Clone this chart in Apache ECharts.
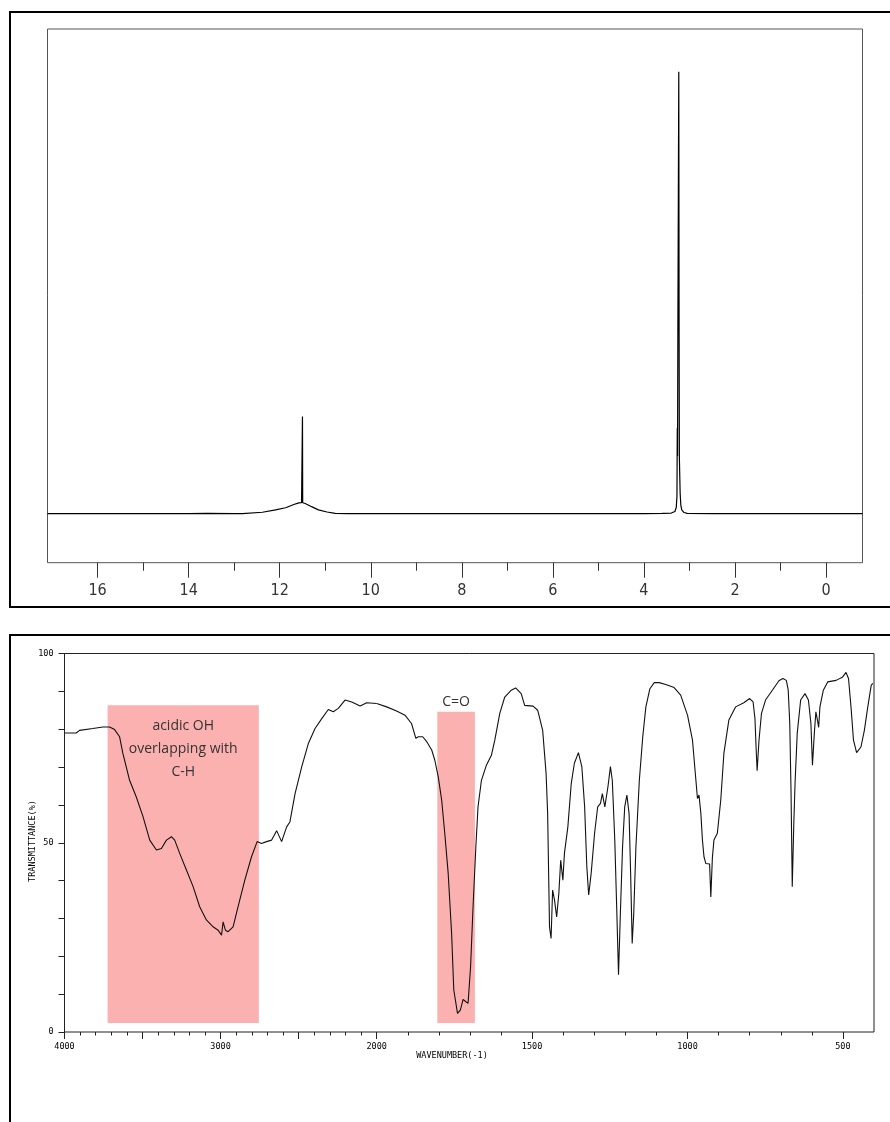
<!DOCTYPE html>
<html>
<head>
<meta charset="utf-8">
<title>NMR / IR</title>
<script src="https://cdn.jsdelivr.net/npm/echarts@6/dist/echarts.min.js"></script>
<style>
html, body { margin: 0; padding: 0; background: #fff; }
#main { width: 890px; height: 1122px; }
</style>
</head>
<body>
<div id="main"></div>
<script>
// 1H NMR: shift (ppm) and relative height
var nmrShift = [17.10, 14.00, 13.60, 13.00, 12.82, 12.38, 12.09, 11.87, 11.69, 11.58, 11.52, 11.505, 11.50, 11.495,
    11.44, 11.30, 11.15, 10.96, 10.78, 10.50, 8.00, 4.00, 3.60, 3.40, 3.32, 3.29, 3.275, 3.268, 3.262, 3.255,
    3.250, 3.235, 3.228, 3.222, 3.215, 3.205, 3.19, 3.17, 3.12, 3.05, 2.50, -0.80];
var nmrHeight = [9.2, 9.2, 9.25, 9.2, 9.2, 9.45, 9.9, 10.3, 10.9, 11.2, 11.24, 11.24, 27.4, 11.24,
    11.1, 10.5, 9.9, 9.5, 9.25, 9.2, 9.2, 9.2, 9.25, 9.3, 9.6, 10.4, 12.5, 25.2, 20.0, 43.0,
    43.0, 92.0, 43.0, 19.6, 19.6, 13.0, 10.8, 9.9, 9.4, 9.25, 9.2, 9.2];
var nmrLabels = [0, 2, 4, 6, 8, 10, 12, 14, 16];
var nmrMinor = [1, 3, 5, 7, 9, 11, 13, 15];

// IR: wavenumber (cm-1) and transmittance (%)
var irWave = [4000, 3925, 3904, 3818, 3754, 3711, 3679, 3647, 3626, 3583, 3540, 3497, 3454, 3411, 3379, 3347,
    3315, 3294, 3262, 3219, 3176, 3134, 3091, 3048, 3016, 2994, 2984, 2969, 2952, 2920, 2888, 2845, 2802, 2766,
    2738, 2706, 2673, 2641, 2609, 2577, 2556, 2523, 2480, 2438, 2395, 2352, 2310, 2278, 2246, 2203, 2160, 2106,
    2064, 2000, 1968, 1936, 1909, 1888, 1874, 1866, 1852, 1839, 1823, 1813, 1802, 1791, 1781, 1770, 1759, 1752,
    1740, 1731, 1722, 1713, 1706, 1698, 1690, 1681, 1674, 1663, 1647, 1631, 1620, 1604, 1588, 1567, 1553, 1535,
    1524, 1497, 1482, 1477, 1466, 1455, 1450, 1444, 1439, 1434, 1428, 1421, 1414, 1408, 1401, 1396, 1385, 1374,
    1364, 1351, 1340, 1331, 1324, 1318, 1310, 1299, 1289, 1280, 1274, 1270, 1266, 1261, 1256, 1248, 1242, 1234,
    1227, 1222, 1216, 1209, 1202, 1195, 1188, 1183, 1178, 1173, 1166, 1155, 1144, 1134, 1121, 1107, 1091, 1070,
    1043, 1022, 1000, 984, 973, 968, 963, 957, 952, 947, 941, 937, 929, 925, 920, 915, 904, 893, 883, 867, 845,
    819, 800, 789, 783, 779, 776, 770, 762, 749, 727, 706, 693, 682, 676, 671, 667, 663, 658, 654, 647, 636, 622,
    611, 603, 598, 592, 587, 582, 578, 574, 563, 549, 522, 502, 490, 482, 474, 466, 456, 442, 431, 420, 409, 404];
var irTrans = [79.0, 79.0, 79.7, 80.2, 80.6, 80.6, 79.9, 78.0, 73.6, 66.5, 62.1, 56.9, 50.7, 48.1, 48.5, 50.7,
    51.6, 50.7, 47.2, 42.8, 38.4, 33.1, 29.6, 27.8, 26.9, 25.6, 29.1, 26.9, 26.5, 27.8, 33.1, 40.1, 46.3, 50.3,
    49.8, 50.3, 50.7, 53.2, 50.3, 54.2, 55.5, 63.0, 70.1, 76.2, 80.2, 82.8, 85.2, 84.6, 85.5, 87.7, 87.2, 86.1,
    87.0, 86.8, 85.9, 84.8, 83.7, 81.5, 77.6, 78.0, 78.0, 76.7, 74.5, 71.8, 67.4, 61.3, 52.5, 41.9, 26.1, 11.1,
    4.9, 5.8, 8.6, 8.0, 7.6, 17.2, 33.1, 48.9, 59.5, 66.5, 70.5, 73.1, 77.1, 84.2, 88.5, 90.3, 90.9, 89.4,
    86.3, 86.1, 85.0, 83.4, 79.7, 68.3, 57.7, 27.8, 24.7, 37.5, 34.9, 30.4, 36.6, 45.4, 40.1, 47.2, 54.2, 65.7,
    71.0, 73.8, 70.1, 59.5, 43.7, 36.2, 41.9, 52.5, 59.5, 60.4, 63.0, 63.0, 59.5, 59.1, 64.8, 70.1, 66.5, 50.7,
    30.4, 15.1, 31.3, 48.9, 59.5, 62.6, 57.7, 41.9, 23.4, 31.3, 48.9, 66.5, 78.0, 85.9, 90.7, 92.3, 92.3, 91.8,
    91.0, 89.0, 83.7, 77.1, 66.5, 61.7, 62.6, 57.7, 50.7, 46.3, 44.5, 44.4, 44.4, 35.7, 46.0, 50.7, 52.5, 61.3, 73.6, 82.4, 85.9,
    87.0, 88.1, 87.2, 82.8, 74.5, 69.0, 77.1, 84.2, 87.7, 90.3, 92.8, 93.4, 92.9, 90.3, 81.5, 63.9, 38.4, 55.1, 65.7, 78.9, 87.7, 89.4,
    87.7, 81.5, 70.5, 78.9, 84.6, 82.4, 80.5, 85.9, 90.3, 92.5, 92.9, 93.7, 95.0, 93.4, 85.9, 77.1, 73.8, 75.3, 79.7, 85.9, 91.6, 92.1];
var irLabelsHigh = [4000, 3000, 2000];
var irLabelsLow = [1500, 1000, 500];
var irTicksHigh = [3900, 3800, 3700, 3600, 3400, 3300, 3200, 3100, 2900, 2800, 2700, 2600, 2400, 2300, 2200, 2100];
var irLongHigh = [4000, 3500, 3000, 2500, 2000];
var irTicksLow = [1900, 1800, 1700, 1600, 1400, 1300, 1200, 1100, 900, 800, 700, 600];
var irLongLow = [1500, 1000, 500];
var irYLabels = [0, 50, 100];

// shaded bands: [from, to] in cm-1, [top, bottom] in %
var ohBand = [3724, 2755];
var ohRange = [86.3, 2.4];
var ohText = 'acidic OH\noverlapping with\nC-H';
var coBand = [1805, 1684];
var coRange = [84.6, 2.4];
var coText = 'C=O';

var nmrData = nmrShift.map(function (s, i) { return [s, nmrHeight[i]]; });
var irHigh = [], irLow = [];
irWave.forEach(function (w, i) {
    if (w >= 2000) irHigh.push([w, irTrans[i]]);
    if (w <= 2000) irLow.push([w, irTrans[i]]);
});

var smallFont = 'DejaVu Sans Mono';
var bandColor = '#fcb1b1';
var plain = function (v) { return String(v); };

function tickAxis(grid, min, max, ticks, len, labels, margin) {
    return {
        type: 'value', gridIndex: grid, position: 'bottom', min: min, max: max, inverse: true,
        axisLine: { show: false },
        splitLine: { show: false },
        axisTick: { show: true, length: len, customValues: ticks, lineStyle: { color: '#222', width: 1 } },
        axisLabel: labels ? {
            show: true, customValues: labels, margin: margin, formatter: plain,
            fontFamily: smallFont, fontSize: 8.5, color: '#000'
        } : { show: false }
    };
}

var myChart = echarts.init(document.getElementById('main'));

var option = {
    animation: false,
    backgroundColor: '#fff',
    grid: [
        { left: 47.5, top: 29, width: 815, height: 533.7, show: true, borderColor: '#555', borderWidth: 1 },
        { left: 64.5, top: 653.5, width: 312.2, height: 378.5 },
        { left: 376.7, top: 653.5, width: 497.3, height: 378.5 }
    ],
    xAxis: [
        {
            type: 'value', gridIndex: 0, position: 'bottom', min: -0.8, max: 17.1, inverse: true,
            axisLine: { show: false }, splitLine: { show: false },
            axisTick: { show: true, length: 15, customValues: nmrLabels, lineStyle: { color: '#333' } },
            axisLabel: {
                show: true, customValues: nmrLabels, margin: 20, formatter: plain,
                fontFamily: 'DejaVu Sans Condensed', fontSize: 16, color: '#333'
            }
        },
        {
            type: 'value', gridIndex: 0, position: 'bottom', min: -0.8, max: 17.1, inverse: true,
            axisLine: { show: false }, splitLine: { show: false },
            axisTick: { show: true, length: 8, customValues: nmrMinor, lineStyle: { color: '#333' } },
            axisLabel: { show: false }
        },
        tickAxis(1, 2000, 4000, irTicksHigh, 3.5, irLabelsHigh, 10),
        tickAxis(1, 2000, 4000, irLongHigh, 7, null, 0),
        tickAxis(2, 400, 2000, irTicksLow, 3.5, irLabelsLow, 10),
        tickAxis(2, 400, 2000, irLongLow, 7, null, 0)
    ],
    yAxis: [
        { type: 'value', gridIndex: 0, min: 0, max: 100, show: false },
        {
            type: 'value', gridIndex: 1, min: 0, max: 100, interval: 10,
            axisLine: { show: true, lineStyle: { color: '#222' } },
            splitLine: { show: false },
            axisTick: { show: true, length: 6, lineStyle: { color: '#222' } },
            axisLabel: {
                show: true, customValues: irYLabels, margin: 11, formatter: plain,
                fontFamily: smallFont, fontSize: 8.5, color: '#000'
            }
        },
        { type: 'value', gridIndex: 2, min: 0, max: 100, show: false }
    ],
    series: [
        {
            name: 'NMR', type: 'line', xAxisIndex: 0, yAxisIndex: 0,
            data: nmrData, showSymbol: false, silent: true,
            lineStyle: { color: '#000', width: 1.2 }
        },
        {
            name: 'IR high', type: 'line', xAxisIndex: 2, yAxisIndex: 1,
            data: irHigh, showSymbol: false, silent: true,
            lineStyle: { color: '#111', width: 1.1 },
            markArea: {
                silent: true,
                itemStyle: { color: bandColor, opacity: 1 },
                label: {
                    show: true, position: 'insideTop', distance: 9,
                    fontFamily: 'Open Sans', fontSize: 14, lineHeight: 23, color: '#333',
                    formatter: function () { return ohText; }
                },
                data: [[{ xAxis: ohBand[0], yAxis: ohRange[0] }, { xAxis: ohBand[1], yAxis: ohRange[1] }]]
            }
        },
        {
            name: 'IR low', type: 'line', xAxisIndex: 4, yAxisIndex: 2,
            data: irLow, showSymbol: false, silent: true,
            lineStyle: { color: '#111', width: 1.1 },
            markArea: {
                silent: true,
                itemStyle: { color: bandColor, opacity: 1 },
                label: {
                    show: true, position: 'top', distance: 3,
                    fontFamily: 'Open Sans', fontSize: 14, color: '#333',
                    formatter: function () { return coText; }
                },
                data: [[{ xAxis: coBand[0], yAxis: coRange[0] }, { xAxis: coBand[1], yAxis: coRange[1] }]]
            }
        }
    ],
    graphic: [
        // panel frames
        { type: 'rect', shape: { x: 10, y: 12, width: 900, height: 595 }, style: { fill: 'none', stroke: '#000', lineWidth: 2 }, silent: true },
        { type: 'rect', shape: { x: 10, y: 635, width: 900, height: 520 }, style: { fill: 'none', stroke: '#000', lineWidth: 2 }, silent: true },
        // IR plot box
        { type: 'rect', shape: { x: 64.5, y: 653.5, width: 809.5, height: 378.5 }, style: { fill: 'none', stroke: '#222', lineWidth: 1 }, silent: true, z: 10 },
        {
            type: 'text', x: 452, y: 1056, silent: true,
            style: { text: 'WAVENUMBER(-1)', font: '8.5px "DejaVu Sans Mono"', fill: '#000', align: 'center', verticalAlign: 'middle' }
        },
        {
            type: 'text', x: 33, y: 841, rotation: Math.PI / 2, silent: true,
            style: { text: 'TRANSMITTANCE(%)', font: '8.5px "DejaVu Sans Mono"', fill: '#000', align: 'center', verticalAlign: 'middle' }
        }
    ]
};

myChart.setOption(option);
</script>
</body>
</html>
